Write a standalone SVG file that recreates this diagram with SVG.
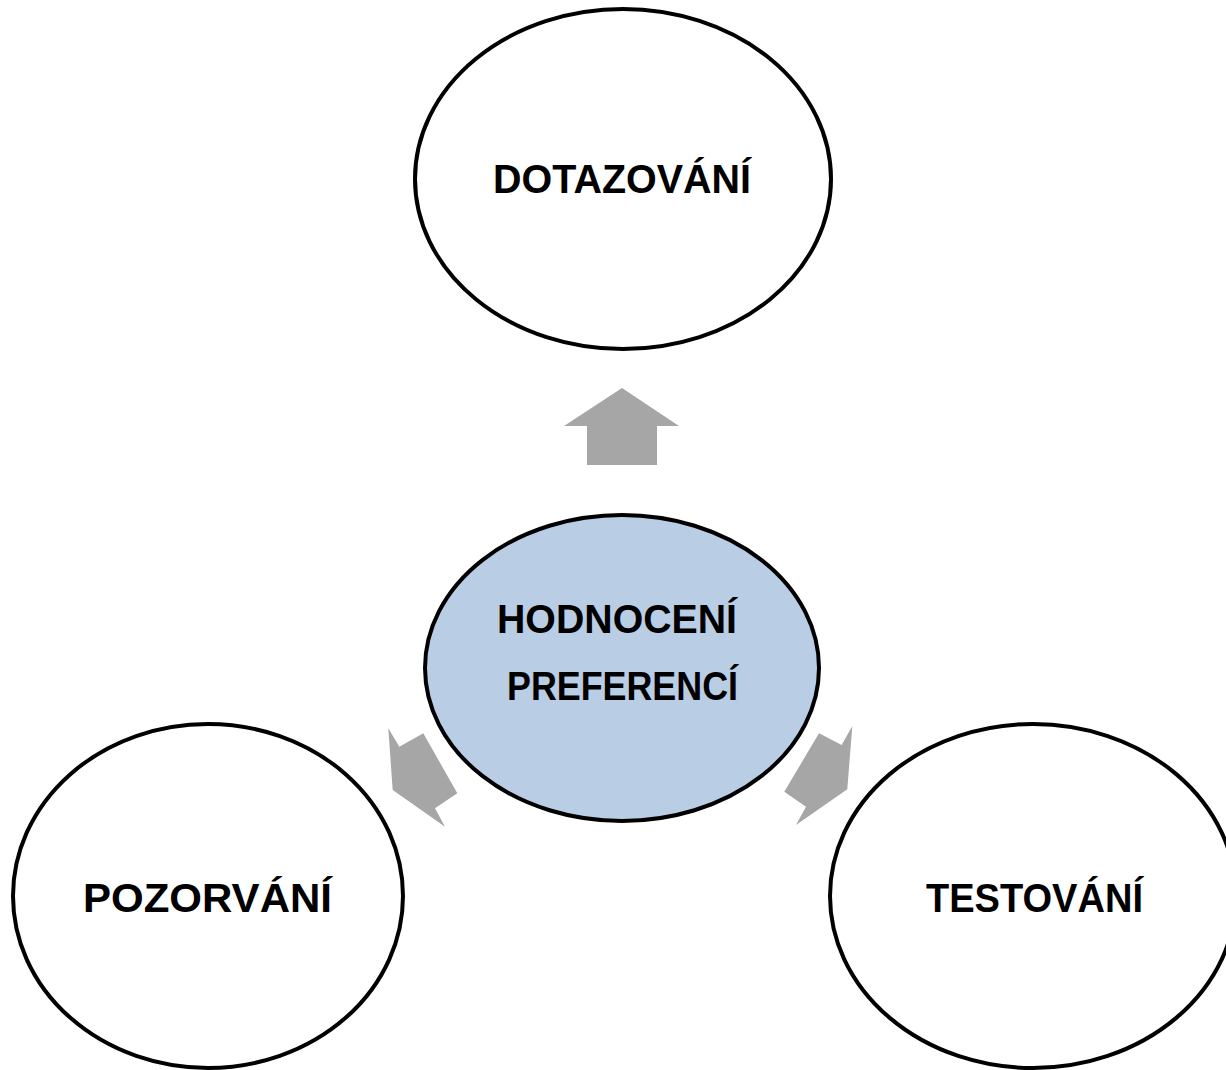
<svg xmlns="http://www.w3.org/2000/svg" width="1226" height="1070" viewBox="0 0 1226 1070">
<style>
.node{fill:#ffffff;stroke:#000000;stroke-width:4}
.center{fill:#b9cde5;stroke:#000000;stroke-width:4}
.lbl{font-family:"Liberation Sans",Arial,sans-serif;font-weight:bold;font-size:40px;fill:#000000}
.arrow{fill:#a6a6a6;stroke:none}
</style>
<rect width="1226" height="1070" fill="#ffffff"/>
<g id="connectors">
<polygon class="arrow" points="622,388 679,426 657,426 657,465 587,465 587,426 564,426"/>
<polygon class="arrow" points="388.3,728.3 399.3,746.7 423.3,733.3 457.3,793.3 435,808.3 445,826.7 392.7,790"/>
<polygon class="arrow" points="819,733.3 841.7,745 852.3,726 847.3,789.3 796,825 806,806.7 784.3,791.7"/>
</g>
<g id="node-dotazovani">
<ellipse class="node" cx="623" cy="179" rx="208" ry="170"/>
<text class="lbl" x="493" y="193" textLength="258" lengthAdjust="spacingAndGlyphs">DOTAZOVÁNÍ</text>
</g>
<g id="node-hodnoceni">
<ellipse class="center" cx="622" cy="668" rx="197" ry="153"/>
<text class="lbl" x="497" y="633" textLength="240" lengthAdjust="spacingAndGlyphs">HODNOCENÍ</text>
<text class="lbl" x="507" y="700" textLength="231" lengthAdjust="spacingAndGlyphs">PREFERENCÍ</text>
</g>
<g id="node-pozorovani">
<ellipse class="node" cx="208" cy="896" rx="195" ry="172"/>
<text class="lbl" x="83" y="912" textLength="249" lengthAdjust="spacingAndGlyphs">POZORVÁNÍ</text>
</g>
<g id="node-testovani">
<ellipse class="node" cx="1033" cy="896" rx="203" ry="172"/>
<text class="lbl" x="926" y="912" textLength="217" lengthAdjust="spacingAndGlyphs">TESTOVÁNÍ</text>
</g>
</svg>
